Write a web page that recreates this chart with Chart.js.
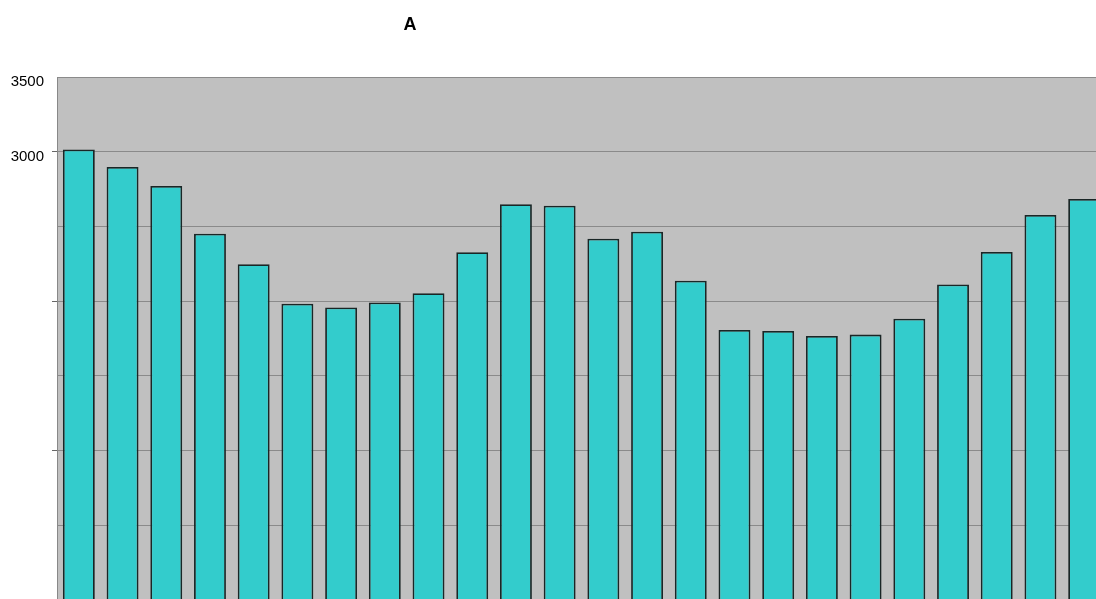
<!DOCTYPE html>
<html>
<head>
<meta charset="utf-8">
<script src="https://cdn.jsdelivr.net/npm/chart.js@4/dist/chart.umd.min.js"></script>
<style>
  html, body { margin: 0; padding: 0; background: #ffffff; overflow: hidden; width: 1096px; height: 599px; }
  #wrap { position: absolute; left: 0; top: 0; width: 1107px; height: 601px; }
  #title { position: absolute; left: 360px; top: 15px; width: 100px; text-align: center;
           font: bold 18px "Liberation Sans", Arial, sans-serif; line-height: 18px; color: #000; }
</style>
</head>
<body>
<div id="wrap"><canvas id="c"></canvas></div>
<div id="title">A</div>
<script>
const categories = ["1","2","3","4","5","6","7","8","9","10","11","12","13","14","15","16","17","18","19","20","21","22","23","24"];
const values = [3015, 2898, 2771, 2451, 2247, 1983, 1958, 1991, 2053, 2327, 2649, 2638, 2418, 2465, 2136, 1807, 1800, 1767, 1776, 1882, 2111, 2329, 2576, 2684];
const tickLabels = { 3500: "3500", 3000: "3000" };

const plotBg = {
  id: 'plotBg',
  beforeDraw(chart) {
    const { ctx, chartArea: a } = chart;
    ctx.save();
    ctx.fillStyle = '#C0C0C0';
    ctx.fillRect(a.left, a.top, a.right - a.left, a.bottom - a.top);
    ctx.restore();
  }
};

new Chart(document.getElementById('c'), {
  type: 'bar',
  data: {
    labels: categories,
    datasets: [{
      data: values,
      backgroundColor: '#33CCCC',
      borderColor: '#1a2626',
      borderWidth: 1.8,
      categoryPercentage: 1.0,
      barPercentage: 0.73
    }]
  },
  options: {
    responsive: true,
    maintainAspectRatio: false,
    animation: false,
    layout: { padding: { top: 77, bottom: 1, right: 1, left: 0 } },
    plugins: { legend: { display: false }, title: { display: false }, tooltip: { enabled: false } },
    scales: {
      x: {
        display: false
      },
      y: {
        min: 0, max: 3500,
        afterFit(scale) { scale.width = 57; scale.paddingTop = 0; scale.paddingBottom = 0; },
        border: { display: true, color: '#888888', width: 1 },
        grid: {
          color: '#8a8a8a',
          lineWidth: 1,
          drawTicks: true,
          tickLength: 5,
          tickColor: (ctx) => (ctx.tick && ctx.tick.value % 1000 === 0 && ctx.tick.value !== 0) ? '#666666' : 'rgba(0,0,0,0)'
        },
        ticks: {
          stepSize: 500,
          padding: 8,
          labelOffset: 5,
          color: '#000000',
          font: { family: '"Liberation Sans", Arial, sans-serif', size: 15 },
          callback: (v) => tickLabels[v] || ''
        }
      }
    }
  },
  plugins: [plotBg]
});
</script>
</body>
</html>
